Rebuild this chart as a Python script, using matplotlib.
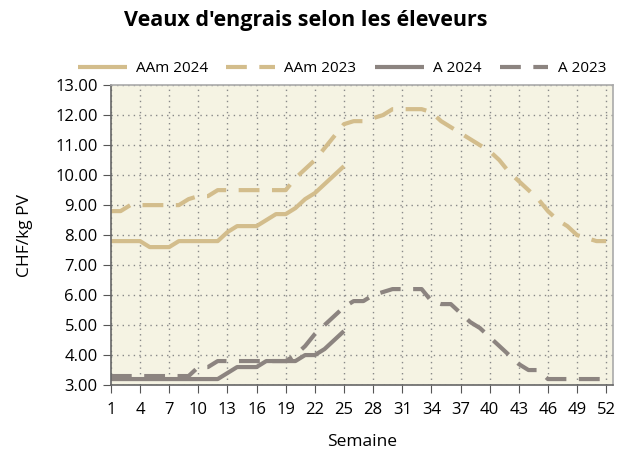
# import library
import numpy as np
import matplotlib.pyplot as plt
import matplotlib as mpl
mpl.style.use('default')
plt.rcParams['font.family'] = ['Open Sans', 'DejaVu Sans']

# Data
weeks = np.arange(1, 53)
weeks_2024 = np.arange(1, 26)

aam_2024 = [7.8, 7.8, 7.8, 7.8, 7.6, 7.6, 7.6, 7.8, 7.8, 7.8, 7.8, 7.8, 8.1,
            8.3, 8.3, 8.3, 8.5, 8.7, 8.7, 8.9, 9.2, 9.4, 9.7, 10.0, 10.3]
aam_2023 = [8.8, 8.8, 9.0, 9.0, 9.0, 9.0, 9.0, 9.0, 9.2, 9.3, 9.3, 9.5, 9.5,
            9.5, 9.5, 9.5, 9.5, 9.5, 9.5, 9.9, 10.2, 10.5, 10.9, 11.3, 11.7, 11.8,
            11.8, 11.9, 12.0, 12.2, 12.2, 12.2, 12.2, 12.1, 11.8, 11.6, 11.4, 11.2,
            11.0, 10.8, 10.5, 10.1, 9.8, 9.5, 9.2, 8.8, 8.5, 8.3, 8.0, 7.9, 7.8, 7.8]
a_2024 = [3.2, 3.2, 3.2, 3.2, 3.2, 3.2, 3.2, 3.2, 3.2, 3.2, 3.2, 3.2, 3.4,
          3.6, 3.6, 3.6, 3.8, 3.8, 3.8, 3.8, 4.0, 4.0, 4.2, 4.5, 4.8]
a_2023 = [3.3, 3.3, 3.3, 3.3, 3.3, 3.3, 3.3, 3.3, 3.3, 3.6, 3.6, 3.8, 3.8,
          3.8, 3.8, 3.8, 3.8, 3.8, 3.8, 4.0, 4.3, 4.7, 5.0, 5.3, 5.6, 5.8,
          5.8, 6.0, 6.1, 6.2, 6.2, 6.2, 6.2, 5.8, 5.7, 5.7, 5.4, 5.1, 4.9, 4.6,
          4.3, 4.0, 3.7, 3.5, 3.5, 3.2, 3.2, 3.2, 3.2, 3.2, 3.2, 3.2]

x_ticks = np.arange(1, 53, 3)
y_ticks = np.arange(3, 13.01, 1)

tan = '#d3bd8c'
grey = '#8c8480'

fig = plt.figure(figsize=(6.3, 4.53), dpi=100)
ax = fig.add_axes([0.176, 0.150, 0.797, 0.662])
ax.set_facecolor('#f5f3e3')

dash = (5, 3)
ax.plot(weeks_2024, aam_2024, color=tan, lw=3, label='AAm 2024', solid_capstyle='butt')
ax.plot(weeks, aam_2023, color=tan, lw=3, dashes=dash, label='AAm 2023', dash_capstyle='butt')
ax.plot(weeks_2024, a_2024, color=grey, lw=3, label='A 2024', solid_capstyle='butt')
ax.plot(weeks, a_2023, color=grey, lw=3, dashes=dash, label='A 2023', dash_capstyle='butt')

# Axes
ax.set_xlim(1, 52.7)
ax.set_ylim(3, 13)
ax.set_xticks(x_ticks)
ax.set_yticks(y_ticks)
ax.set_yticklabels(['%.2f' % v for v in y_ticks])
ax.tick_params(labelsize=12, length=6, color='#555555', direction='out')
ax.tick_params(axis='x', pad=6)
ax.grid(True, linestyle=(0, (1.0, 3.0)), color='#888888', lw=1)

for s in ['top', 'right']:
    ax.spines[s].set_color('#aaaaaa')
for s in ['left', 'bottom']:
    ax.spines[s].set_color('#666666')
for s in ax.spines.values():
    s.set_linewidth(1.2)

ax.set_xlabel('Semaine', fontsize=12.5, labelpad=12)
ax.set_ylabel('CHF/kg PV', fontsize=12.5, labelpad=16)

fig.text(0.485, 0.955, "Veaux d'engrais selon les éleveurs", ha='center', va='center',
         fontsize=15.5, fontweight='bold')
ax.legend(loc='lower center', bbox_to_anchor=(0.46, 1.0), ncol=4, frameon=False,
          fontsize=11, handlelength=3.2, columnspacing=1.2, handletextpad=0.6,
          borderaxespad=0.2)

fig.savefig('out.png', dpi=100)
